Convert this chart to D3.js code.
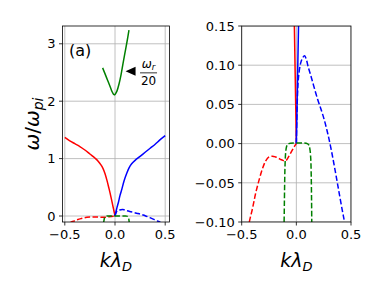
<!DOCTYPE html>
<html>
  <head>
    <title>Dispersion relation: two panels</title>
    <meta charset="UTF-8">
    <style>
      body { margin: 0; background: #fff; }
      svg text { font-family: "DejaVu Sans", sans-serif; fill: #000; }
      .grid line { stroke: #b0b0b0; stroke-width: 0.8; }
      .frame { fill: none; stroke: #000; stroke-width: 0.8; }
      .tick { stroke: #000; stroke-width: 0.8; }
    </style>
  </head>
  <body>
    <div class="chart"></div>

    <script src="https://d3js.org/d3.v7.min.js" charset="utf-8"></script>

    <script>

/* DATA (k lambda_D, omega / omega_pi) */

// real part, branch going left (red solid)
var redRe = [
  [-0.5, 1.37], [-0.45, 1.31], [-0.4, 1.26], [-0.35, 1.21], [-0.3, 1.15],
  [-0.25, 1.08], [-0.2, 1.01], [-0.17, 0.96], [-0.14, 0.89], [-0.12, 0.83],
  [-0.1, 0.74], [-0.08, 0.62], [-0.06, 0.48], [-0.04, 0.33], [-0.02, 0.165],
  [-0.01, 0.083], [0, 0]
];
// real part, branch going right (blue solid)
var blueRe = [
  [0, 0], [0.01, 0.075], [0.02, 0.15], [0.033, 0.23], [0.05, 0.36], [0.067, 0.46],
  [0.09, 0.61], [0.116, 0.74], [0.14, 0.84], [0.166, 0.91], [0.2, 0.97],
  [0.25, 1.04], [0.3, 1.11], [0.35, 1.18], [0.4, 1.25], [0.45, 1.33], [0.5, 1.40]
];
// real part of the third mode, divided by 20 (green solid, left panel only)
var greenRe = [
  [-0.123, 2.58], [-0.1, 2.48], [-0.075, 2.37], [-0.05, 2.26], [-0.03, 2.17],
  [-0.015, 2.12], [-0.005, 2.11], [0.005, 2.13], [0.02, 2.18], [0.04, 2.30],
  [0.06, 2.46], [0.08, 2.66], [0.1, 2.85], [0.12, 3.04], [0.139, 3.24]
];
// imaginary parts (dashed)
var redIm = [
  [-0.45, -0.12], [-0.43, -0.10], [-0.4, -0.082], [-0.37, -0.062], [-0.34, -0.046],
  [-0.31, -0.032], [-0.28, -0.022], [-0.25, -0.017], [-0.22, -0.016], [-0.19, -0.017],
  [-0.16, -0.019], [-0.13, -0.021], [-0.1, -0.022], [-0.08, -0.019], [-0.06, -0.014],
  [-0.04, -0.009], [-0.02, -0.004], [0, 0]
];
var blueIm = [
  [0, 0], [0.01, 0.06], [0.02, 0.085], [0.04, 0.103], [0.06, 0.11], [0.075, 0.112],
  [0.09, 0.108], [0.11, 0.097], [0.134, 0.086], [0.16, 0.073], [0.196, 0.056],
  [0.23, 0.042], [0.256, 0.030], [0.28, 0.017], [0.3, 0.005], [0.325, -0.012],
  [0.348, -0.029], [0.37, -0.046], [0.393, -0.064], [0.42, -0.085], [0.44, -0.10], [0.455, -0.12]
];
var greenIm = [
  [-0.115, -0.12], [-0.112, -0.10], [-0.108, -0.06], [-0.104, -0.03], [-0.098, -0.012],
  [-0.09, -0.004], [-0.08, -0.001], [-0.07, 0], [0.1, 0], [0.115, -0.002],
  [0.125, -0.008], [0.132, -0.02], [0.136, -0.04], [0.139, -0.07], [0.141, -0.10], [0.142, -0.12]
];

var xTicks = [-0.5, 0, 0.5];
var leftYTicks = [0, 1, 2, 3];
var rightYTicks = [-0.10, -0.05, 0.00, 0.05, 0.10, 0.15];

var config = {
  "width": 382,
  "height": 287,
  "left":  { "x": [62.5, 169.5], "y": [222, 26], "xd": [-0.5229, 0.5428], "yd": [-0.1045, 3.31] },
  "right": { "x": [241.7, 351], "y": [222, 26], "xd": [-0.5, 0.5], "yd": [-0.1, 0.15] }
};

var svg = d3.select(".chart").append("svg")
  .attr("width", config.width)
  .attr("height", config.height);

// minus sign like matplotlib
function minus(s) { return s.replace("-", "\u2212"); }

function panel(id, p, yFormat, series) {
  var x = d3.scaleLinear().domain(p.xd).range(p.x);
  var y = d3.scaleLinear().domain(p.yd).range(p.y);
  var g = svg.append("g");

  g.append("clipPath").attr("id", "clip-" + id)
    .append("rect")
      .attr("x", p.x[0]).attr("y", p.y[1])
      .attr("width", p.x[1] - p.x[0]).attr("height", p.y[0] - p.y[1]);

  var yTicks = series.yTicks;

  // grid
  var grid = g.append("g").attr("class", "grid").attr("clip-path", "url(#clip-" + id + ")");
  grid.selectAll(".gx").data(xTicks).enter().append("line")
    .attr("x1", (d) => x(d)).attr("x2", (d) => x(d))
    .attr("y1", p.y[0]).attr("y2", p.y[1]);
  grid.selectAll(".gy").data(yTicks).enter().append("line")
    .attr("x1", p.x[0]).attr("x2", p.x[1])
    .attr("y1", (d) => y(d)).attr("y2", (d) => y(d));

  // curves
  var line = d3.line()
    .x((d) => x(d[0]))
    .y((d) => y(d[1]))
    .curve(d3.curveCatmullRom.alpha(0.5));

  var lines = g.append("g").attr("clip-path", "url(#clip-" + id + ")");
  series.lines.forEach(function(s) {
    lines.append("path")
      .attr("d", line(s.data))
      .attr("fill", "none")
      .attr("stroke", s.color)
      .attr("stroke-width", 1.5)
      .attr("stroke-dasharray", s.dashed ? "5.5,2.4" : null);
  });

  // frame
  g.append("rect").attr("class", "frame")
    .attr("x", p.x[0]).attr("y", p.y[1])
    .attr("width", p.x[1] - p.x[0]).attr("height", p.y[0] - p.y[1]);

  // ticks
  g.selectAll(".tx").data(xTicks).enter().append("line").attr("class", "tick")
    .attr("x1", (d) => x(d)).attr("x2", (d) => x(d))
    .attr("y1", p.y[0]).attr("y2", p.y[0] + 3.5);
  g.selectAll(".txl").data(xTicks).enter().append("text")
    .attr("x", (d) => x(d)).attr("y", p.y[0] + 17)
    .attr("text-anchor", "middle")
    .style("font-size", "13px")
    .text((d) => minus(d3.format(".1f")(d)));

  g.selectAll(".ty").data(yTicks).enter().append("line").attr("class", "tick")
    .attr("x1", p.x[0] - 3.5).attr("x2", p.x[0])
    .attr("y1", (d) => y(d)).attr("y2", (d) => y(d));
  g.selectAll(".tyl").data(yTicks).enter().append("text")
    .attr("x", p.x[0] - 7).attr("y", (d) => y(d) + 4.7)
    .attr("text-anchor", "end")
    .style("font-size", "13px")
    .text((d) => minus(yFormat(d)));

  // x label  k lambda_D
  var xl = g.append("text")
    .attr("x", (p.x[0] + p.x[1]) / 2).attr("y", p.y[0] + 45)
    .attr("text-anchor", "middle")
    .style("font-size", "19px")
    .style("font-style", "italic");
  xl.append("tspan").text("k\u03bb");
  xl.append("tspan").attr("dy", 4).style("font-size", "13px").text("D");

  return { x: x, y: y, g: g };
}

var left = panel("a", config.left, d3.format("d"), {
  yTicks: leftYTicks,
  lines: [
    { data: redRe, color: "red" },
    { data: blueRe, color: "blue" },
    { data: greenRe, color: "green" },
    { data: redIm, color: "red", dashed: true },
    { data: blueIm, color: "blue", dashed: true },
    { data: greenIm, color: "green", dashed: true }
  ]
});

panel("b", config.right, d3.format(".2f"), {
  yTicks: rightYTicks,
  lines: [
    { data: redRe, color: "red" },
    { data: blueRe, color: "blue" },
    { data: redIm, color: "red", dashed: true },
    { data: blueIm, color: "blue", dashed: true },
    { data: greenIm, color: "green", dashed: true }
  ]
});

// y label omega / omega_pi
var yl = svg.append("text")
  .attr("transform", "translate(39,124) rotate(-90)")
  .attr("text-anchor", "middle")
  .style("font-size", "20px");
yl.append("tspan").style("font-style", "italic").text("\u03c9");
yl.append("tspan").text("/");
yl.append("tspan").style("font-style", "italic").text("\u03c9");
yl.append("tspan").attr("dy", 4).style("font-style", "italic").style("font-size", "14px").text("pi");

// panel tag
svg.append("text").attr("x", 69).attr("y", 56).style("font-size", "16px").text("(a)");

// annotation: arrow head pointing at the green curve, omega_r / 20
var ax = left.x(0.105), ay = left.y(2.52);
svg.append("path")
  .attr("d", "M" + (ax) + "," + ay + "l10,-4.5l0,9z")
  .attr("fill", "#000");
var fx = ax + 23;
var num = svg.append("text").attr("x", fx).attr("y", ay - 3)
  .attr("text-anchor", "middle").style("font-size", "12px");
num.append("tspan").style("font-style", "italic").text("\u03c9");
num.append("tspan").attr("dy", 2).style("font-style", "italic").style("font-size", "8.5px").text("r");
svg.append("line")
  .attr("x1", fx - 8.5).attr("x2", fx + 8.5)
  .attr("y1", ay + 1.5).attr("y2", ay + 1.5)
  .attr("stroke", "#000").attr("stroke-width", 0.8);
svg.append("text").attr("x", fx).attr("y", ay + 14)
  .attr("text-anchor", "middle").style("font-size", "12px").text("20");

    </script>
  </body>
</html>
